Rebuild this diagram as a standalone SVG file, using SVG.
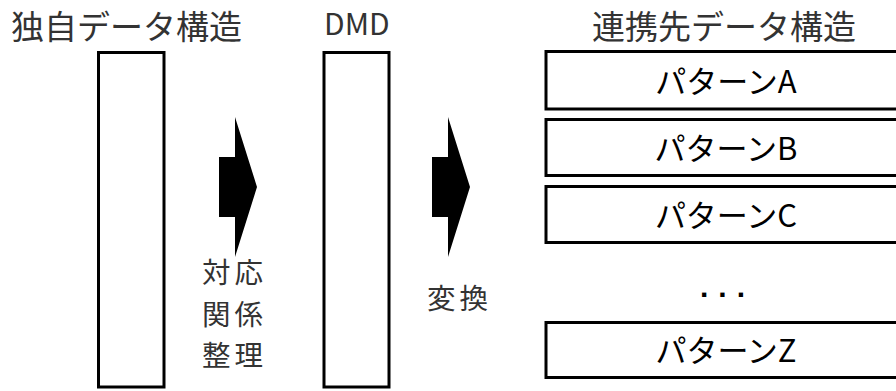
<svg xmlns="http://www.w3.org/2000/svg" width="896" height="391" viewBox="0 0 896 391">
<style>
  text { font-family: "Noto Sans CJK JP", "Noto Sans", sans-serif; }
  .t { font-size: 33px; fill: #333; }
  .l { font-size: 28.5px; fill: #333; letter-spacing: 4px; }
  .p { font-size: 31px; fill: #000; text-anchor: middle; }
  .box { fill: #fff; stroke: #000; stroke-width: 3; }
  .arr { fill: #000; }
</style>
<rect width="896" height="391" fill="#fff"/>
<g id="own">
  <text class="t" x="11" y="39">独自データ構造</text>
  <rect class="box" x="98.5" y="52.5" width="65.5" height="334.5"/>
</g>
<g id="dmd">
  <text class="t" x="324" y="35" style="font-size:30px">DMD</text>
  <rect class="box" x="324" y="52.5" width="65" height="334.5"/>
</g>
<g id="target">
  <text class="t" x="592" y="39">連携先データ構造</text>
</g>
<g id="patternA">
  <rect class="box" x="546" y="51.5" width="360" height="57.5"/>
  <text class="p" x="726" y="93">パターンA</text>
</g>
<g id="patternB">
  <rect class="box" x="546" y="119.5" width="360" height="56"/>
  <text class="p" x="726" y="160">パターンB</text>
</g>
<g id="patternC">
  <rect class="box" x="546" y="186.5" width="360" height="56"/>
  <text class="p" x="726" y="227">パターンC</text>
</g>
<g id="ellipsis">
  <text x="700" y="297" style="font-family:'Liberation Sans',sans-serif;font-size:30px;font-weight:bold;letter-spacing:10px">...</text>
</g>
<g id="patternZ">
  <rect class="box" x="546" y="322.5" width="360" height="55"/>
  <text class="p" x="726" y="362">パターンZ</text>
</g>
<g id="connectors">
  <polygon class="arr" points="219,157 235,157 235,117 257,187 235,257 235,217 219,217"/>
  <polygon class="arr" points="432,157 448,157 448,117 470,187 448,257 448,217 432,217"/>
  <text class="l"><tspan x="202" y="283">対応</tspan><tspan x="202" y="324.5">関係</tspan><tspan x="202" y="366">整理</tspan></text>
  <text class="l" x="427" y="309">変換</text>
</g>
</svg>
